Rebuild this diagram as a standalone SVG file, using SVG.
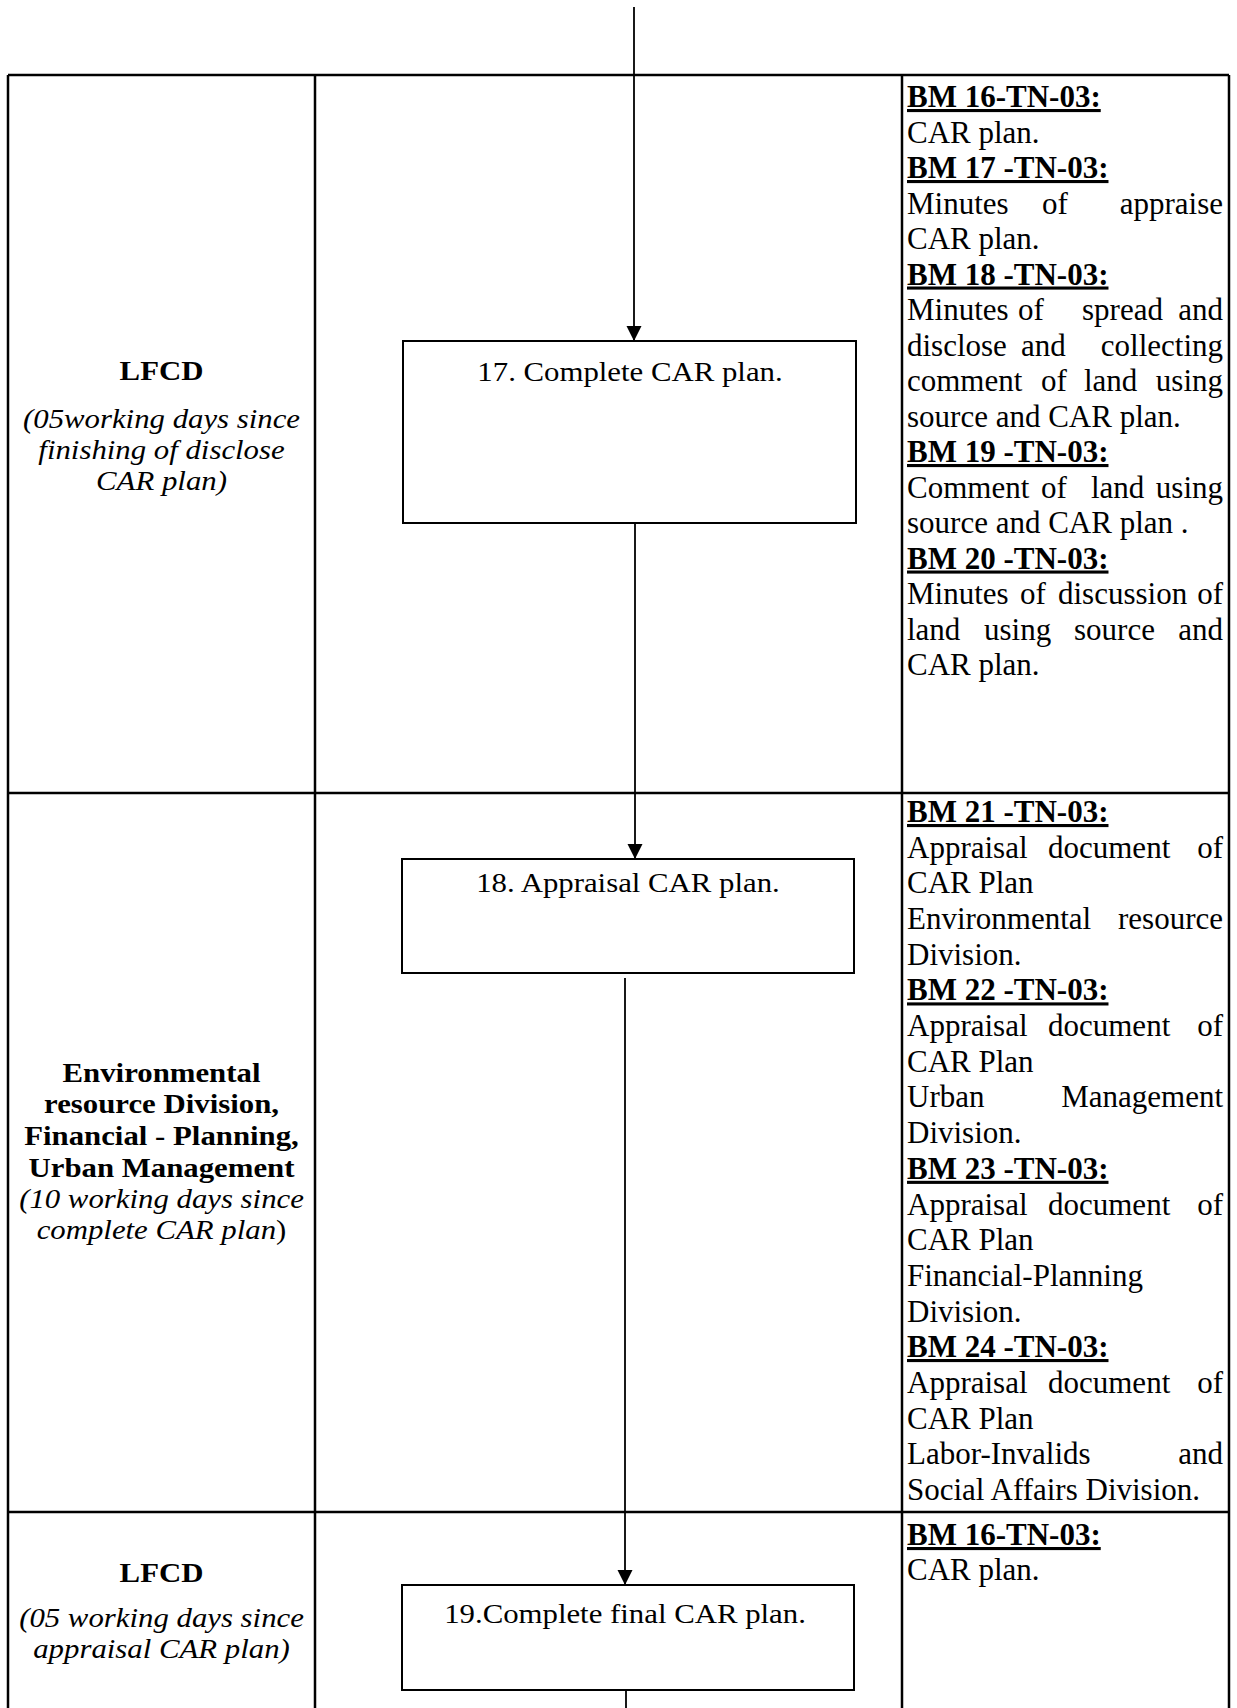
<svg xmlns="http://www.w3.org/2000/svg" width="1237" height="1708" viewBox="0 0 1237 1708">
<style>
text{font-family:"Liberation Serif","Times New Roman",serif;font-size:31px;fill:#000}
.s{font-size:28px}
.b{font-weight:bold}
.i{font-style:italic}
.u{font-weight:bold;text-decoration:underline}
.c{text-anchor:middle}
.e{text-anchor:end}
.grid{stroke:#000;stroke-width:2.5;fill:none}
.box{stroke:#000;stroke-width:2;fill:#fff}
.con{stroke:#000;stroke-width:1.8;fill:none}
</style>
<defs>
<marker id="arr" markerUnits="userSpaceOnUse" markerWidth="16" markerHeight="16" refX="15" refY="7.5" orient="auto">
<path d="M0,0 L15,7.5 L0,15 Z" fill="#000"/>
</marker>
</defs>
<rect width="1237" height="1708" fill="#fff"/>

<g id="table">
<line class="grid" x1="8" y1="75" x2="1229" y2="75"/>
<line class="grid" x1="8" y1="793" x2="1229" y2="793"/>
<line class="grid" x1="8" y1="1512" x2="1229" y2="1512"/>
<line class="grid" x1="8" y1="75" x2="8" y2="1708"/>
<line class="grid" x1="315" y1="75" x2="315" y2="1708"/>
<line class="grid" x1="902" y1="75" x2="902" y2="1708"/>
<line class="grid" x1="1229" y1="75" x2="1229" y2="1708"/>
</g>

<g id="connectors">
<line class="con" x1="634" y1="7" x2="634" y2="341" marker-end="url(#arr)"/>
<line class="con" x1="635" y1="523" x2="635" y2="859" marker-end="url(#arr)"/>
<line class="con" x1="625" y1="978" x2="625" y2="1585" marker-end="url(#arr)"/>
<line class="con" x1="626" y1="1691" x2="626" y2="1708"/>
</g>

<g id="lane1">
<text class="s b c" transform="translate(161.5,380) scale(1.1,1)">LFCD</text>
<text class="s i c" transform="translate(161.5,428) scale(1.1,1)">(05working days since</text>
<text class="s i c" transform="translate(161.5,459) scale(1.1,1)">finishing of disclose</text>
<text class="s i c" transform="translate(161.5,490) scale(1.1,1)">CAR plan)</text>
</g>

<g id="lane2">
<text class="s b c" transform="translate(161.5,1082) scale(1.1,1)">Environmental</text>
<text class="s b c" transform="translate(161.5,1113) scale(1.1,1)">resource Division,</text>
<text class="s b c" transform="translate(161.5,1145) scale(1.1,1)">Financial - Planning,</text>
<text class="s b c" transform="translate(161.5,1177) scale(1.1,1)">Urban Management</text>
<text class="s i c" transform="translate(161.5,1208) scale(1.1,1)">(10 working days since</text>
<text class="s c" transform="translate(161.5,1239) scale(1.1,1)"><tspan class="i">complete CAR plan</tspan>)</text>
</g>

<g id="lane3">
<text class="s b c" transform="translate(161.5,1582) scale(1.1,1)">LFCD</text>
<text class="s i c" transform="translate(161.5,1627) scale(1.1,1)">(05 working days since</text>
<text class="s i c" transform="translate(161.5,1658) scale(1.1,1)">appraisal CAR plan)</text>
</g>

<g id="step17">
<rect class="box" x="403" y="341" width="453" height="182"/>
<text class="s c" transform="translate(630,381) scale(1.1,1)">17. Complete CAR plan.</text>
</g>

<g id="step18">
<rect class="box" x="402" y="859" width="452" height="114"/>
<text class="s c" transform="translate(628,892) scale(1.1,1)">18. Appraisal CAR plan.</text>
</g>

<g id="step19">
<rect class="box" x="402" y="1585" width="452" height="105"/>
<text class="s c" transform="translate(625,1623) scale(1.1,1)">19.Complete final CAR plan.</text>
</g>

<g id="docs1">
<text class="u" x="907" y="107">BM 16-TN-03:</text>
<text x="907" y="142.5">CAR plan.</text>
<text class="u" x="907" y="178">BM 17 -TN-03:</text>
<text x="907" y="213.5">Minutes</text><text x="1042" y="213.5">of</text><text class="e" x="1223" y="213.5">appraise</text>
<text x="907" y="249">CAR plan.</text>
<text class="u" x="907" y="284.5">BM 18 -TN-03:</text>
<text x="907" y="320">Minutes</text><text x="1018" y="320">of</text><text x="1082" y="320">spread</text><text class="e" x="1223" y="320">and</text>
<text x="907" y="355.5">disclose</text><text x="1021" y="355.5">and</text><text class="e" x="1223" y="355.5">collecting</text>
<text x="907" y="391">comment</text><text x="1041" y="391">of</text><text x="1084" y="391">land</text><text class="e" x="1223" y="391">using</text>
<text x="907" y="426.5">source and CAR plan.</text>
<text class="u" x="907" y="462">BM 19 -TN-03:</text>
<text x="907" y="497.5">Comment</text><text x="1041" y="497.5">of</text><text x="1091" y="497.5">land</text><text class="e" x="1223" y="497.5">using</text>
<text x="907" y="533">source and CAR plan .</text>
<text class="u" x="907" y="568.5">BM 20 -TN-03:</text>
<text x="907" y="604">Minutes</text><text x="1020" y="604">of</text><text x="1058" y="604">discussion</text><text class="e" x="1223" y="604">of</text>
<text x="907" y="639.5">land</text><text x="984" y="639.5">using</text><text x="1074" y="639.5">source</text><text class="e" x="1223" y="639.5">and</text>
<text x="907" y="675">CAR plan.</text>
</g>

<g id="docs2">
<text class="u" x="907" y="822">BM 21 -TN-03:</text>
<text x="907" y="857.7">Appraisal</text><text x="1048" y="857.7">document</text><text class="e" x="1223" y="857.7">of</text>
<text x="907" y="893.4">CAR Plan</text>
<text x="907" y="929">Environmental</text><text class="e" x="1223" y="929">resource</text>
<text x="907" y="964.7">Division.</text>
<text class="u" x="907" y="1000.4">BM 22 -TN-03:</text>
<text x="907" y="1036">Appraisal</text><text x="1048" y="1036">document</text><text class="e" x="1223" y="1036">of</text>
<text x="907" y="1071.8">CAR Plan</text>
<text x="907" y="1107.4">Urban</text><text class="e" x="1223" y="1107.4">Management</text>
<text x="907" y="1143">Division.</text>
<text class="u" x="907" y="1178.8">BM 23 -TN-03:</text>
<text x="907" y="1214.5">Appraisal</text><text x="1048" y="1214.5">document</text><text class="e" x="1223" y="1214.5">of</text>
<text x="907" y="1250">CAR Plan</text>
<text x="907" y="1285.8">Financial-Planning</text>
<text x="907" y="1321.5">Division.</text>
<text class="u" x="907" y="1357">BM 24 -TN-03:</text>
<text x="907" y="1392.9">Appraisal</text><text x="1048" y="1392.9">document</text><text class="e" x="1223" y="1392.9">of</text>
<text x="907" y="1428.6">CAR Plan</text>
<text x="907" y="1464">Labor-Invalids</text><text class="e" x="1223" y="1464">and</text>
<text x="907" y="1500">Social Affairs Division.</text>
</g>

<g id="docs3">
<text class="u" x="907" y="1545">BM 16-TN-03:</text>
<text x="907" y="1580">CAR plan.</text>
</g>
</svg>
